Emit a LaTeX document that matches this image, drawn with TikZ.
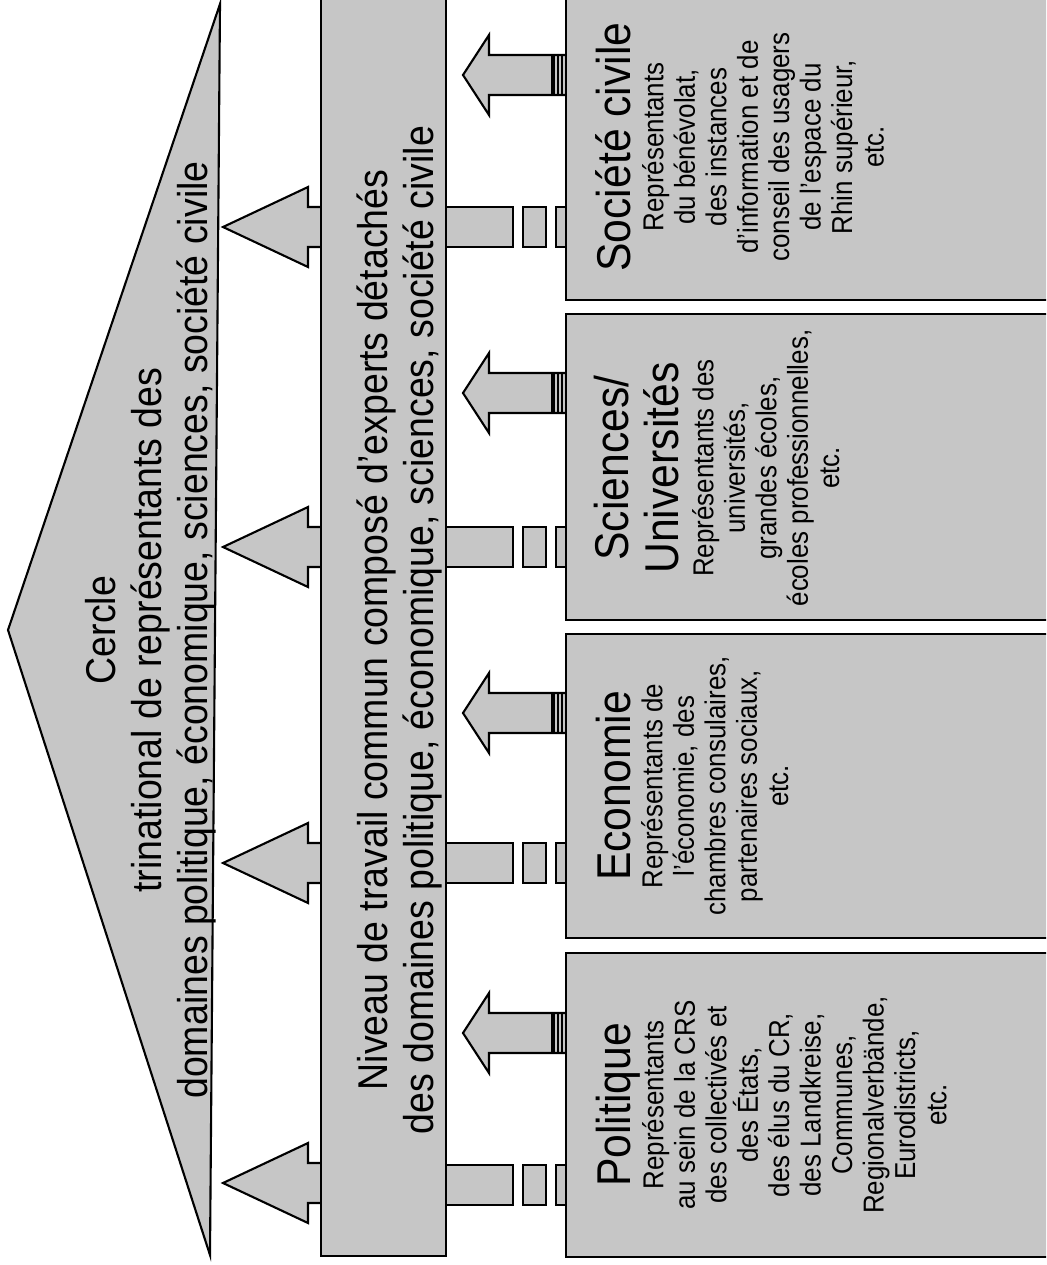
\documentclass[tikz,border=0pt]{standalone}
\usepackage{fontspec}
\setmainfont{Liberation Sans}[FakeStretch=0.9]
\definecolor{fillg}{RGB}{198,198,198}
\newcommand\myTop{\rule{0pt}{0.8em}}
\begin{document}
\begin{tikzpicture}[x=0.02cm,y=-0.02cm,
  shapeline/.style={draw=black,line width=1.2pt,fill=fillg,line join=miter},
  stripe/.style={draw=black,line width=0.8pt},
  bigtxt/.style={rotate=90,anchor=north,align=center,inner sep=0pt,font=\fontsize{23.7}{26.1}\selectfont},
  titletxt/.style={rotate=90,anchor=north,align=center,inner sep=0pt,font=\fontsize{27}{28.4}\selectfont},
  bodytxt/.style={rotate=90,anchor=north,align=center,inner sep=0pt,font=\fontsize{16.4}{17.9}\selectfont}]
\useasboundingbox (0,0) rectangle (1046,1265);
\clip (0,0) rectangle (1046,1265);

% roof
\draw[shapeline] (220,4) -- (8,630) -- (210,1255) -- cycle;

% arrows from working level to roof
\foreach \c in {227,547,863,1183}{
  \draw[shapeline] (325,\c-20) -- (308,\c-20) -- (308,\c-40) -- (223,\c) -- (308,\c+40) -- (308,\c+20) -- (325,\c+20) -- cycle;
}

% working level bar
\draw[shapeline] (321,-10) rectangle (446,1256);

% pillars
\foreach \c in {227,547,863,1185}{
  \draw[shapeline] (446,\c-20) rectangle (513,\c+20);
  \draw[shapeline] (523,\c-20) rectangle (546,\c+20);
  \draw[shapeline] (556,\c-20) rectangle (568,\c+20);
}

% arrows from groups to working level
\foreach \d in {75,393,713,1033}{
  \draw[shapeline] (489,\d-20) -- (489,\d-40) -- (463,\d) -- (489,\d+40) -- (489,\d+20) -- (568,\d+20) -- (568,\d-20) -- cycle;
  \draw[draw=black,line width=2.2pt] (553,\d-20) -- (553,\d+20);
  \draw[stripe] (558,\d-20) -- (558,\d+20);
  \draw[stripe] (562,\d-20) -- (562,\d+20);
}

% group boxes
\draw[shapeline] (566,-10) rectangle (1060,300);
\draw[shapeline] (566,314) rectangle (1060,620);
\draw[shapeline] (566,634) rectangle (1060,938);
\draw[shapeline] (566,953) rectangle (1060,1257);

% texts
\node[bigtxt] (roofT) at (81.7,630) {\myTop Cercle\\trinational de représentants des\\domaines politique, économique, sciences, société civile};
\node[bigtxt] (levelT) at (353.7,630) {\myTop Niveau de travail commun composé d'experts détachés\\des domaines politique, économique, sciences, société civile};

\node[titletxt] (socT) at (592,147) {\myTop Société civile};
\node[bodytxt] (socB) at (640,147) {\myTop Représentants\\du bénévolat,\\des instances\\d'information et de\\conseil des usagers\\de l'espace du\\Rhin supérieur,\\etc.};

\node[titletxt] (sciT) at (590,468) {\myTop Sciences/\\Universités};
\node[bodytxt] (sciB) at (690,468) {\myTop Représentants des\\universités,\\grandes écoles,\\écoles professionnelles,\\etc.};

\node[titletxt] (ecoT) at (592,786) {\myTop Economie};
\node[bodytxt] (ecoB) at (639,786) {\myTop Représentants de\\l'économie, des\\chambres consulaires,\\partenaires sociaux,\\etc.};

\node[titletxt] (polT) at (592,1105) {\myTop Politique};
\node[bodytxt] (polB) at (640,1105) {\myTop Représentants\\au sein de la CRS\\des collectivés et\\des États,\\des élus du CR,\\des Landkreise,\\Communes,\\Regionalverbände,\\Eurodistricts,\\etc.};
\end{tikzpicture}
\end{document}
